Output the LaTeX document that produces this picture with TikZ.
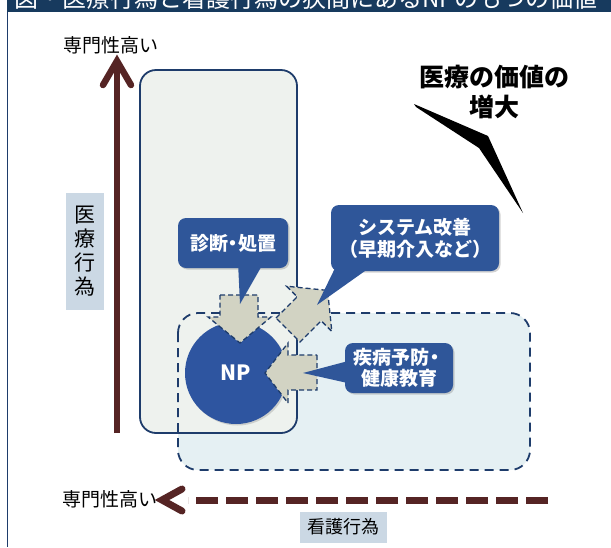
\documentclass[tikz,border=0pt]{standalone}
\usepackage{fontspec}
\setmainfont{Noto Sans CJK JP}
\usetikzlibrary{shadows}
\definecolor{navy}{HTML}{1E3C6B}
\definecolor{hdr}{HTML}{173A5E}
\definecolor{brownarr}{HTML}{552424}
\definecolor{boxblue}{HTML}{2F5699}
\definecolor{npblue}{HTML}{2E55A0}
\definecolor{greyarr}{HTML}{D2D3C3}
\definecolor{tallfill}{HTML}{EEF2EE}
\definecolor{dashfill}{HTML}{E5F0F3}
\definecolor{labfill}{HTML}{CBD8E4}
\newcommand{\tdot}{\kern-4.5pt・\kern-4.5pt}
\tikzset{
  callout/.style={fill=boxblue, rounded corners=8pt, text=white, align=center, inner sep=0pt,
    font=\bfseries\fontsize{19}{22}\selectfont,
    drop shadow={opacity=0.35, shadow xshift=1.5pt, shadow yshift=-1.5pt}},
  tailfill/.style={fill=boxblue},
  labbox/.style={fill=labfill, inner sep=0pt, align=center},
  garrow/.style={fill=greyarr, draw=navy, dash pattern=on 5pt off 3pt, line width=1.3pt, line join=miter},
  brownline/.style={draw=brownarr, line width=6pt},
  chevron/.style={draw=brownarr, line width=7pt, line cap=round, line join=miter},
  areabox/.style={rounded corners=16pt},
}
\begin{document}
\begin{tikzpicture}[x=1pt,y=-1pt]
\useasboundingbox (0,0) rectangle (611,547);
\fill[white] (0,0) rectangle (611,547);

% header bar with clipped title
\begin{scope}
  \clip (7,0) rectangle (611,12);
  \fill[hdr] (7,0) rectangle (611,12);
  \node[anchor=base west, text=white, font=\fontsize{24}{24}\selectfont, inner sep=0pt] (title) at (14,7) {図・医療行為と看護行為の狭間にあるNPのもつの価値};
\end{scope}
\draw[navy, line width=1.5pt] (7.5,12) -- (7.5,547);

% areas
\fill[dashfill, areabox, rounded corners=20pt] (178,313) rectangle (530,470);
\filldraw[fill=tallfill, draw=navy, line width=1.8pt, areabox] (140,70) rectangle (297,433);
\draw[navy, line width=1.8pt, dash pattern=on 9pt off 6pt, areabox, rounded corners=20pt] (178,313) rectangle (530,470);

% vertical axis arrow
\node[font=\fontsize{19}{19}\selectfont] (toplab) at (111,45) {専門性高い};
\coordinate (vbot) at (117,433);
\coordinate (vtop) at (117,64);
\draw[brownline] (vbot) -- (vtop);
\draw[chevron, line width=6.5pt] (103,85) -- (117,61) -- (131,85);
\node[labbox, minimum width=38pt, minimum height=117pt, font=\fontsize{21}{24}\selectfont] (med) at (85,251.5) {医\\療\\行\\為};

% horizontal axis arrow
\node[font=\fontsize{19}{19}\selectfont, anchor=east, inner sep=0pt] (botlab) at (158,499) {専門性高い};
\coordinate (hright) at (548,500);
\coordinate (hleft) at (188,500);
\draw[draw=brownarr, line width=7pt, dash pattern=on 22pt off 8pt] (hright) -- (hleft);
\draw[chevron] (182,489) -- (162,500) -- (182,511);
\node[labbox, minimum width=87pt, minimum height=31pt, font=\fontsize{18}{18}\selectfont] (nurse) at (343,527) {看護行為};

% value text and wedge
\node[font=\bfseries\fontsize{25}{30}\selectfont, align=center] (val) at (494,92) {医療の価値の\\増大};
\fill[black] (414,104) -- (488,136) -- (523,213) -- (479,148) -- (416,107) -- cycle;

% NP circle
\node[circle, fill=npblue, minimum size=102pt, inner sep=0pt, text=white,
      font=\bfseries\fontsize{21}{21}\selectfont,
      drop shadow={opacity=0.3, shadow xshift=1.5pt, shadow yshift=-1.5pt}] (np) at (236,373) {NP};

% grey arrows
\filldraw[garrow] (220,295) -- (258,295) -- (258,317) -- (271,317) -- (240,343) -- (208,317) -- (220,317) -- cycle;
\filldraw[garrow] (276,318) -- (297.2,296.8) -- (286.6,286.2) -- (327.6,290.4) -- (331.8,331.4) -- (321.2,320.8) -- (300,342) -- cycle;
\filldraw[garrow] (317,355) -- (317,390) -- (288,390) -- (288,403) -- (265,373) -- (288,343) -- (288,355) -- cycle;

% callouts
\node[callout, minimum width=110pt, minimum height=50pt] (c1) at (233,243) {診断\tdot 処置};
\fill[tailfill] (238,262) -- (264,262) -- (240,304) -- cycle;
\node[callout, minimum width=168pt, minimum height=66pt] (c2) at (415,238) {システム改善\\（早期介入など）};
\fill[tailfill] (338,262) -- (372,266) -- (317,305) -- cycle;
\node[callout, minimum width=108pt, minimum height=50pt, font=\bfseries\fontsize{19}{21}\selectfont] (c3) at (399,368) {疾病予防\kern-4.5pt・\\健康教育};
\fill[tailfill] (352,360) -- (352,384) -- (303,373) -- cycle;
\end{tikzpicture}
\end{document}
